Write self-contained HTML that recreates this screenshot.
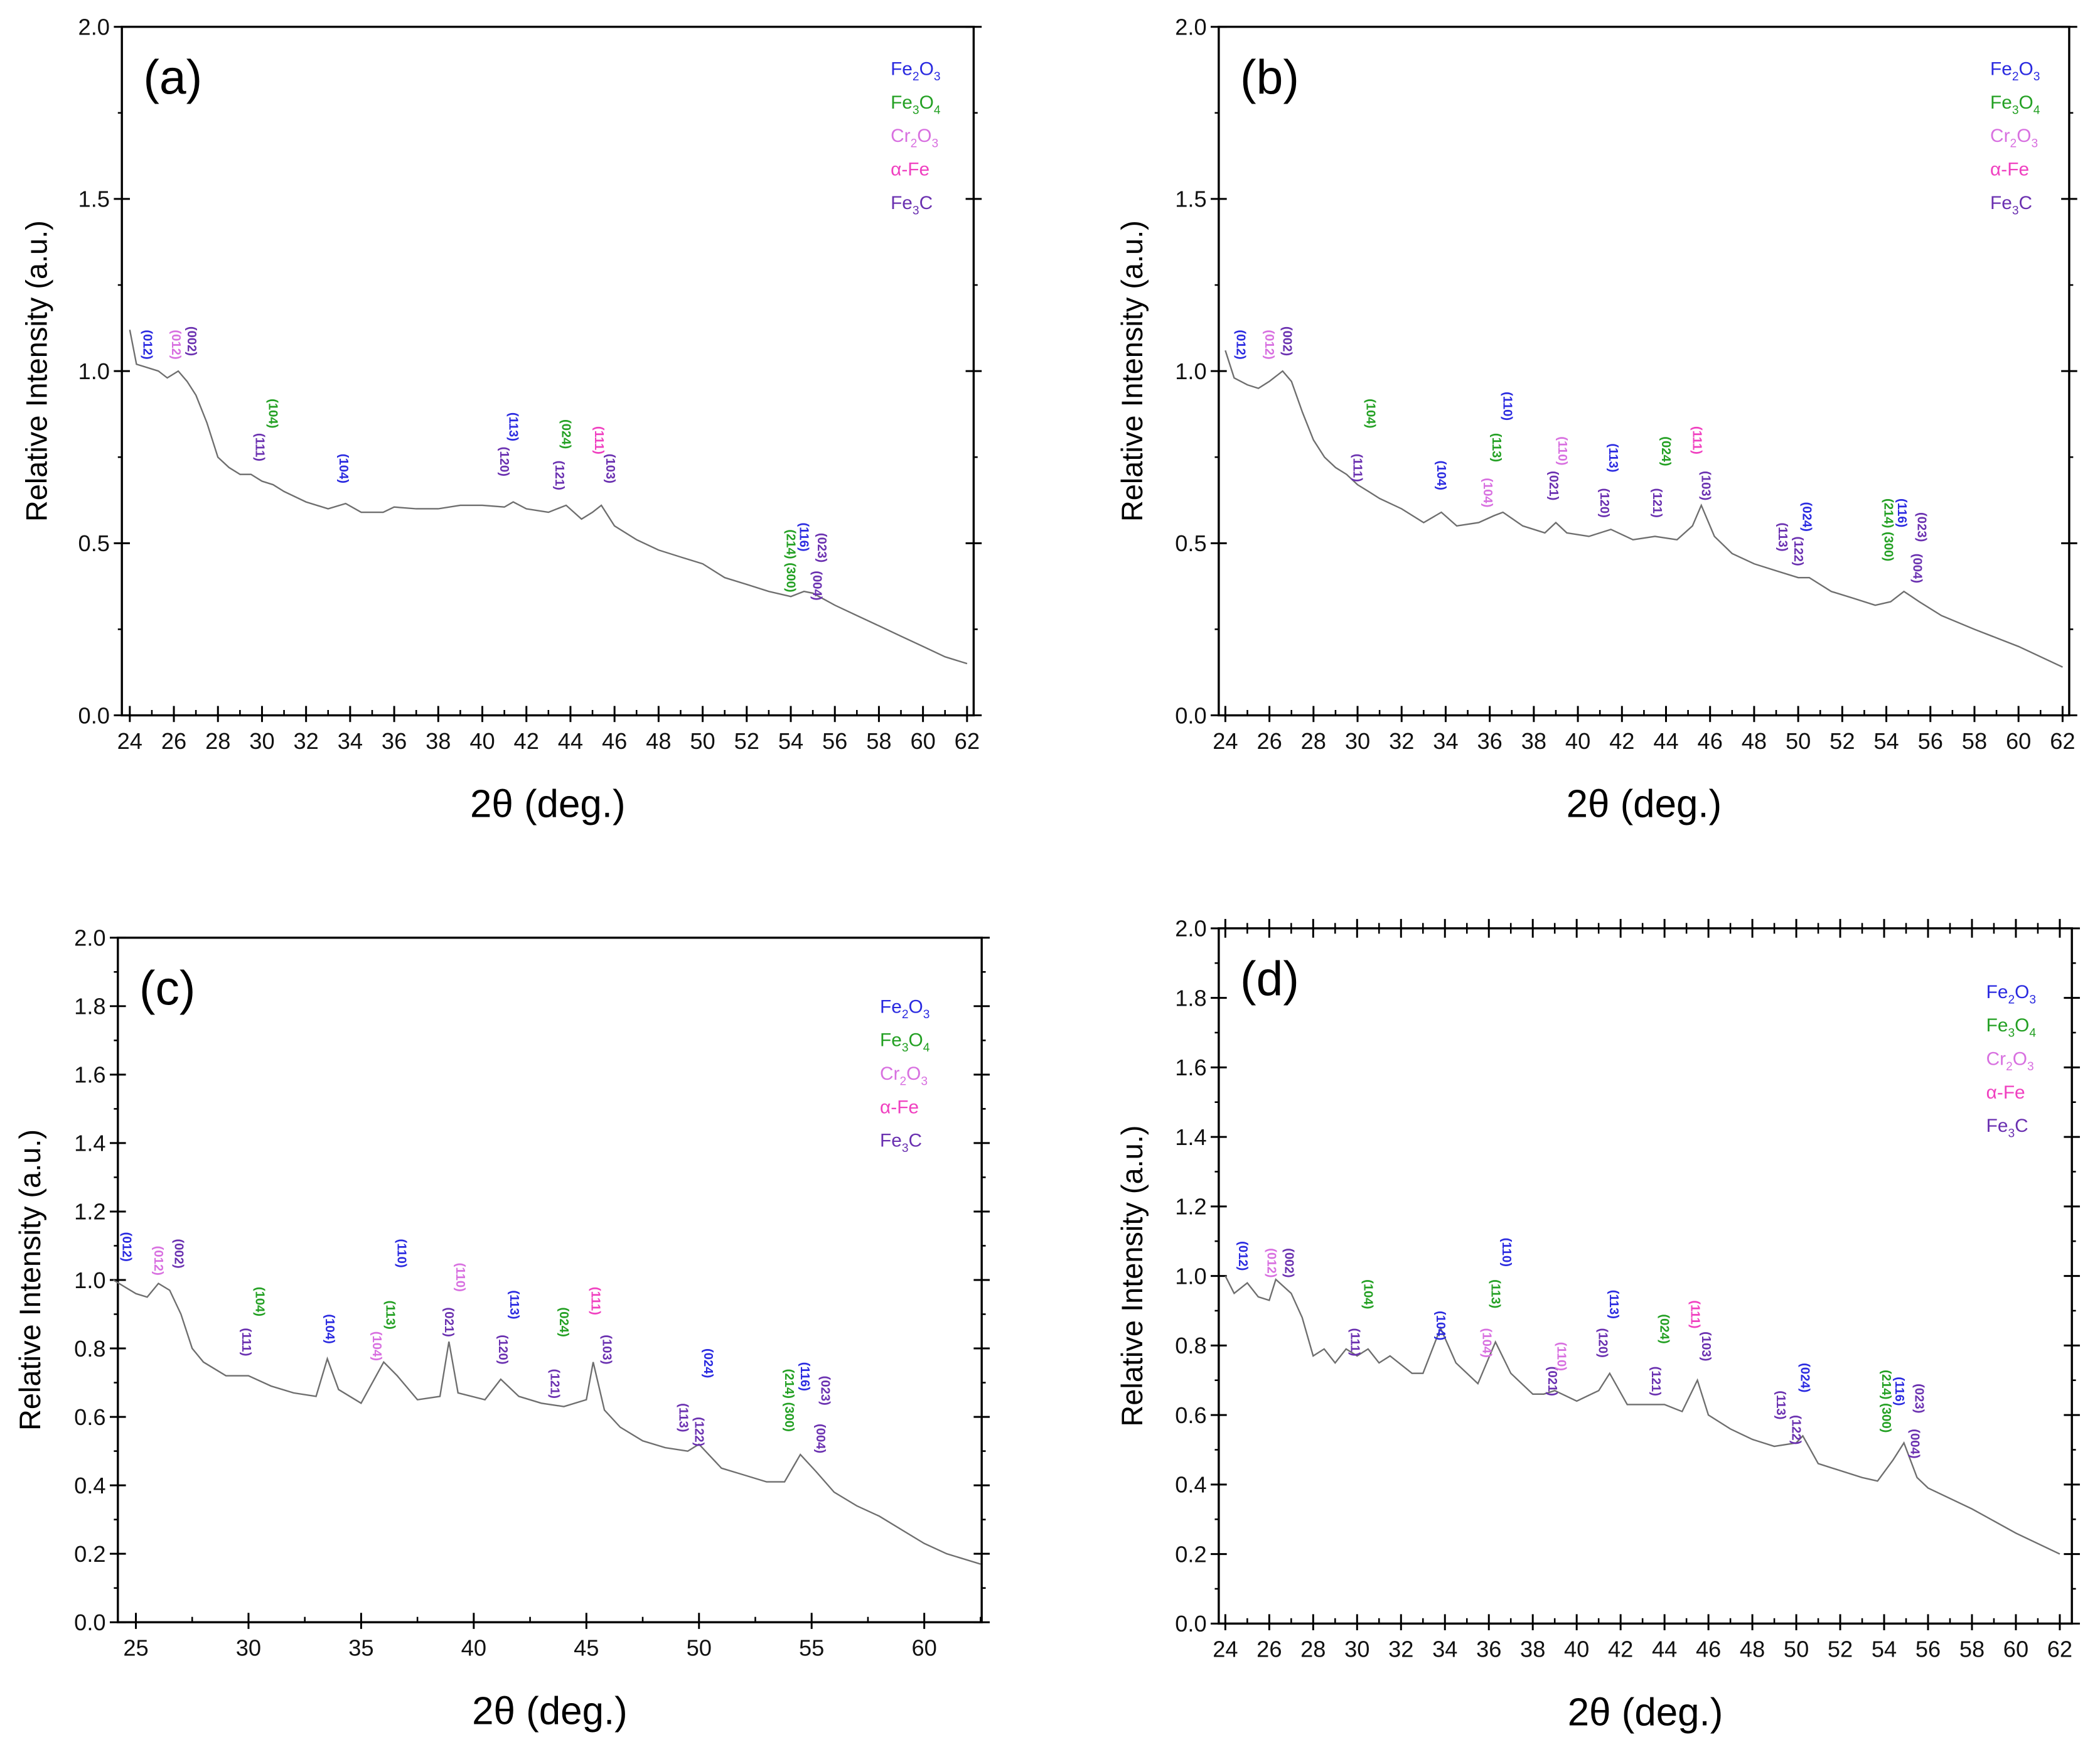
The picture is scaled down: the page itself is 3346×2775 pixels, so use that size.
<!DOCTYPE html>
<html><head><meta charset="utf-8"><style>
html,body{margin:0;padding:0;background:#fff;}
svg{display:block;font-family:"Liberation Sans",Arial,sans-serif;}
</style></head><body>
<svg id="fig" width="3346" height="2775" viewBox="0 0 1568 1300.4" xmlns="http://www.w3.org/2000/svg"></svg>
<script>
// ---- data ----
const seriesAX=[24,24.3,24.8,25.3,25.7,26.2,26.6,27,27.5,28,28.5,29,29.5,30,30.5,31,32,33,33.8,34.5,35.5,36,37,38,39,40,41,41.4,42,43,43.8,44.5,45,45.4,46,47,48,49,50,51,52,53,54,54.6,55,56,57,58,59,60,61,62];
const seriesAY=[1.12,1.02,1.01,1.0,0.98,1.0,0.97,0.93,0.85,0.75,0.72,0.7,0.7,0.68,0.67,0.65,0.62,0.6,0.615,0.59,0.59,0.605,0.6,0.6,0.61,0.61,0.605,0.62,0.6,0.59,0.61,0.57,0.59,0.61,0.55,0.51,0.48,0.46,0.44,0.40,0.38,0.36,0.345,0.36,0.355,0.32,0.29,0.26,0.23,0.2,0.17,0.15];
const seriesBX=[24,24.4,25,25.5,26,26.6,27,27.5,28,28.5,29,29.5,30,30.5,31,32,33,33.8,34.5,35.5,36.2,36.6,37.5,38.5,39,39.5,40.5,41.5,42.5,43.5,44.5,45.2,45.6,46.2,47,48,49,50,50.5,51.5,52.5,53.5,54.2,54.8,55.5,56.5,58,60,62];
const seriesBY=[1.06,0.98,0.96,0.95,0.97,1.0,0.97,0.88,0.8,0.75,0.72,0.7,0.67,0.65,0.63,0.6,0.56,0.59,0.55,0.56,0.58,0.59,0.55,0.53,0.56,0.53,0.52,0.54,0.51,0.52,0.51,0.55,0.61,0.52,0.47,0.44,0.42,0.40,0.40,0.36,0.34,0.32,0.33,0.36,0.33,0.29,0.25,0.2,0.14];
const seriesCX=[24,24.5,25,25.5,26,26.5,27,27.5,28,29,30,31,32,33,33.5,34,35,36,36.6,37.5,38.5,38.9,39.3,40.5,41.2,42,43,44,45,45.3,45.8,46.5,47.5,48.5,49.5,50,51,52,53,53.8,54.5,55.2,56,57,58,59,60,61,62.5];
const seriesCY=[1.0,0.98,0.96,0.95,0.99,0.97,0.9,0.8,0.76,0.72,0.72,0.69,0.67,0.66,0.77,0.68,0.64,0.76,0.72,0.65,0.66,0.82,0.67,0.65,0.71,0.66,0.64,0.63,0.65,0.76,0.62,0.57,0.53,0.51,0.5,0.52,0.45,0.43,0.41,0.41,0.49,0.44,0.38,0.34,0.31,0.27,0.23,0.20,0.17];
const seriesDX=[24,24.4,25,25.5,26,26.3,27,27.5,28,28.5,29,29.5,30,30.5,31,31.5,32.5,33,33.8,34.5,35.5,36.3,37,38,38.5,39,40,41,41.5,42.3,43,44,44.8,45.5,46,47,48,49,50,50.3,51,52,53,53.7,54.4,54.9,55.5,56,58,60,62];
const seriesDY=[1.0,0.95,0.98,0.94,0.93,0.99,0.95,0.88,0.77,0.79,0.75,0.79,0.77,0.79,0.75,0.77,0.72,0.72,0.85,0.75,0.69,0.81,0.72,0.66,0.66,0.67,0.64,0.67,0.72,0.63,0.63,0.63,0.61,0.70,0.60,0.56,0.53,0.51,0.52,0.54,0.46,0.44,0.42,0.41,0.47,0.52,0.42,0.39,0.33,0.26,0.2];
const yTicksAB=[0,0.5,1.0,1.5,2.0];
const yTicksCD=[0,0.2,0.4,0.6,0.8,1.0,1.2,1.4,1.6,1.8,2.0];
const xTicksABD=[24,26,28,30,32,34,36,38,40,42,44,46,48,50,52,54,56,58,60,62];
const xTicksC=[25,30,35,40,45,50,55,60];
const C={b:'#2a2ae0',g:'#23a023',c:'#d870e0',f:'#f040c0',p:'#6a30b0'};
const annA=[['(012)','b',24.8,1.12],['(012)','c',26.1,1.12],['(002)','p',26.8,1.13],['(104)','g',30.5,0.92],['(111)','p',29.9,0.82],['(104)','b',33.7,0.76],['(113)','b',41.4,0.88],['(120)','p',41.0,0.78],['(024)','g',43.8,0.86],['(121)','p',43.5,0.74],['(111)','f',45.3,0.84],['(103)','p',45.8,0.76],['(214) (300)','g',54.0,0.54],['(116)','b',54.6,0.56],['(023)','p',55.4,0.53],['(004)','p',55.2,0.42]];
const annB=[['(012)','b',24.7,1.12],['(012)','c',26.0,1.12],['(002)','p',26.8,1.13],['(104)','g',30.6,0.92],['(111)','p',30.0,0.76],['(104)','b',33.8,0.74],['(104)','c',35.9,0.69],['(113)','g',36.3,0.82],['(110)','b',36.8,0.94],['(021)','p',38.9,0.71],['(110)','c',39.3,0.81],['(120)','p',41.2,0.66],['(113)','b',41.6,0.79],['(121)','p',43.6,0.66],['(024)','g',44.0,0.81],['(111)','f',45.4,0.84],['(103)','p',45.8,0.71],['(113)','p',49.3,0.56],['(122)','p',50.0,0.52],['(024)','b',50.4,0.62],['(214) (300)','g',54.1,0.63],['(116)','b',54.7,0.63],['(023)','p',55.6,0.59],['(004)','p',55.4,0.47]];
const annC=[['(012)','b',24.6,1.14],['(012)','c',26.0,1.1],['(002)','p',26.9,1.12],['(104)','g',30.5,0.98],['(111)','p',29.9,0.86],['(104)','b',33.6,0.9],['(104)','c',35.7,0.85],['(113)','g',36.3,0.94],['(110)','b',36.8,1.12],['(021)','p',38.9,0.92],['(110)','c',39.4,1.05],['(120)','p',41.3,0.84],['(113)','b',41.8,0.97],['(121)','p',43.6,0.74],['(024)','g',44.0,0.92],['(111)','f',45.4,0.98],['(103)','p',45.9,0.84],['(113)','p',49.3,0.64],['(122)','p',50.0,0.6],['(024)','b',50.4,0.8],['(214) (300)','g',54.0,0.74],['(116)','b',54.7,0.76],['(023)','p',55.6,0.72],['(004)','p',55.4,0.58]];
const annD=[['(012)','b',24.8,1.1],['(012)','c',26.1,1.08],['(002)','p',26.9,1.08],['(104)','g',30.5,0.99],['(111)','p',29.9,0.85],['(104)','b',33.8,0.9],['(104)','c',35.9,0.85],['(113)','g',36.3,0.99],['(110)','b',36.8,1.11],['(021)','p',38.9,0.74],['(110)','c',39.3,0.81],['(120)','p',41.2,0.85],['(113)','b',41.7,0.96],['(121)','p',43.6,0.74],['(024)','g',44.0,0.89],['(111)','f',45.4,0.93],['(103)','p',45.9,0.84],['(113)','p',49.3,0.67],['(122)','p',50.0,0.6],['(024)','b',50.4,0.75],['(214) (300)','g',54.1,0.73],['(116)','b',54.7,0.71],['(023)','p',55.6,0.69],['(004)','p',55.4,0.56]];

// ---- drawing ----
const NS='http://www.w3.org/2000/svg';
const svg=document.getElementById('fig');
function mk(tag,attrs,parent){const e=document.createElementNS(NS,tag);for(const k in attrs)e.setAttribute(k,attrs[k]);(parent||svg).appendChild(e);return e;}
function panel(o){
  const g=mk('g',{});
  
  
  const sx=v=>o.L+(v-o.x0)/(o.x1-o.x0)*(o.R-o.L);
  const sy=v=>o.B-(v-0)/2*(o.B-o.T);
  const frame=mk('rect',{x:o.L,y:o.T,width:o.R-o.L,height:o.B-o.T,fill:'none',stroke:'#000','stroke-width':1.6},g);
  
  
  const yStep=o.yt[1]-o.yt[0];
  o.yt.forEach((v,i)=>{
    const y=sy(v);
    mk('line',{x1:o.L-6,x2:o.L+6,y1:y,y2:y,stroke:'#000','stroke-width':1.4},g);
    mk('line',{x1:o.R-6,x2:o.R+6,y1:y,y2:y,stroke:'#000','stroke-width':1.4},g);
    if(i<o.yt.length-1){const ym=sy(v+yStep/2);mk('line',{x1:o.L-3,x2:o.L,y1:ym,y2:ym,stroke:'#000','stroke-width':1.2},g);mk('line',{x1:o.R,x2:o.R+3,y1:ym,y2:ym,stroke:'#000','stroke-width':1.2},g);}
    const t=mk('text',{x:o.L-9,y:y+6,'text-anchor':'end','font-size':17,fill:'#111'},g);
    t.textContent=v.toFixed(1);
    
    
  });
  const xStep=o.xt[1]-o.xt[0];
  o.xt.forEach((v,i)=>{
    const x=sx(v);
    mk('line',{x1:x,x2:x,y1:o.B-7,y2:o.B+5,stroke:'#000','stroke-width':1.4},g);
    if(o.top)mk('line',{x1:x,x2:x,y1:o.T-7,y2:o.T+7,stroke:'#000','stroke-width':1.4},g);
    const xm=sx(v+xStep/2);
    if(v+xStep/2<o.x1){mk('line',{x1:xm,x2:xm,y1:o.B-4,y2:o.B,stroke:'#000','stroke-width':1.2},g);if(o.top)mk('line',{x1:xm,x2:xm,y1:o.T-4,y2:o.T+4,stroke:'#000','stroke-width':1.2},g);}
    const t=mk('text',{x:x,y:o.B+25,'text-anchor':'middle','font-size':17,fill:'#111'},g);
    t.textContent=v;
    
    
  });
  const pts=o.xs.map((x,i)=>sx(x).toFixed(1)+','+sy(o.ys[i]).toFixed(1)).join(' ');
  const line=mk('polyline',{points:pts,fill:'none',stroke:'#6e6e6e','stroke-width':1.1},g);
  
  
  o.ann.forEach(a=>{
    const x=sx(a[2]),y=sy(a[3]);
    const t=mk('text',{x:0,y:0,transform:'translate('+(x-3).toFixed(1)+','+y.toFixed(1)+') rotate(90)','font-size':9.5,'font-weight':'bold',fill:C[a[1]]},g);
    t.textContent=a[0];
    
    
  });
  const leg=[['Fe','2','O','3','b'],['Fe','3','O','4','g'],['Cr','2','O','3','c'],['α-Fe','','','','f'],['Fe','3','C','','p']];
  leg.forEach((l,i)=>{
    const t=mk('text',{x:o.legX,y:o.legY+i*25,'font-size':14,fill:C[l[4]]},g);
    
    
    const a=mk('tspan',{},t);a.textContent=l[0];
    if(l[1]){const s=mk('tspan',{'font-size':9,dy:4},t);s.textContent=l[1];const b=mk('tspan',{dy:-4},t);b.textContent=l[2];if(l[3]){const s2=mk('tspan',{'font-size':9,dy:4},t);s2.textContent=l[3];}}
  });
  const lab=mk('text',{x:o.L+16,y:o.T+50,'font-size':36,fill:'#000'},g);
  lab.textContent='('+o.id+')';
  
  
  const yt=mk('text',{x:0,y:0,transform:'translate('+o.yTitleX+','+((o.T+o.B)/2)+') rotate(-90)','text-anchor':'middle','font-size':22,fill:'#000'},g);
  yt.textContent='Relative Intensity (a.u.)';
  
  
  const xt=mk('text',{x:(o.L+o.R)/2,y:o.B+o.xTitleDy,'text-anchor':'middle','font-size':29,fill:'#000'},g);
  xt.textContent='2θ (deg.)';
  
  
}
panel({id:'a',L:91,R:727,T:20,B:534,x0:23.64,x1:62.3,xt:xTicksABD,yt:yTicksAB,xs:seriesAX,ys:seriesAY,ann:annA,legX:665,legY:56,yTitleX:35,top:false,xTitleDy:76});
panel({id:'b',L:910,R:1545,T:20,B:534,x0:23.7,x1:62.3,xt:xTicksABD,yt:yTicksAB,xs:seriesBX,ys:seriesBY,ann:annB,legX:1486,legY:56,yTitleX:853,top:false,xTitleDy:76});
panel({id:'c',L:88,R:733,T:700,B:1211,x0:24.2,x1:62.55,xt:xTicksC,yt:yTicksCD,xs:seriesCX,ys:seriesCY,ann:annC,legX:657,legY:756,yTitleX:30,top:false,xTitleDy:76});
panel({id:'d',L:910,R:1547,T:693,B:1212,x0:23.7,x1:62.55,xt:xTicksABD,yt:yTicksCD,xs:seriesDX,ys:seriesDY,ann:annD,legX:1483,legY:745,yTitleX:853,top:true,xTitleDy:76});
</script>
</body></html>
